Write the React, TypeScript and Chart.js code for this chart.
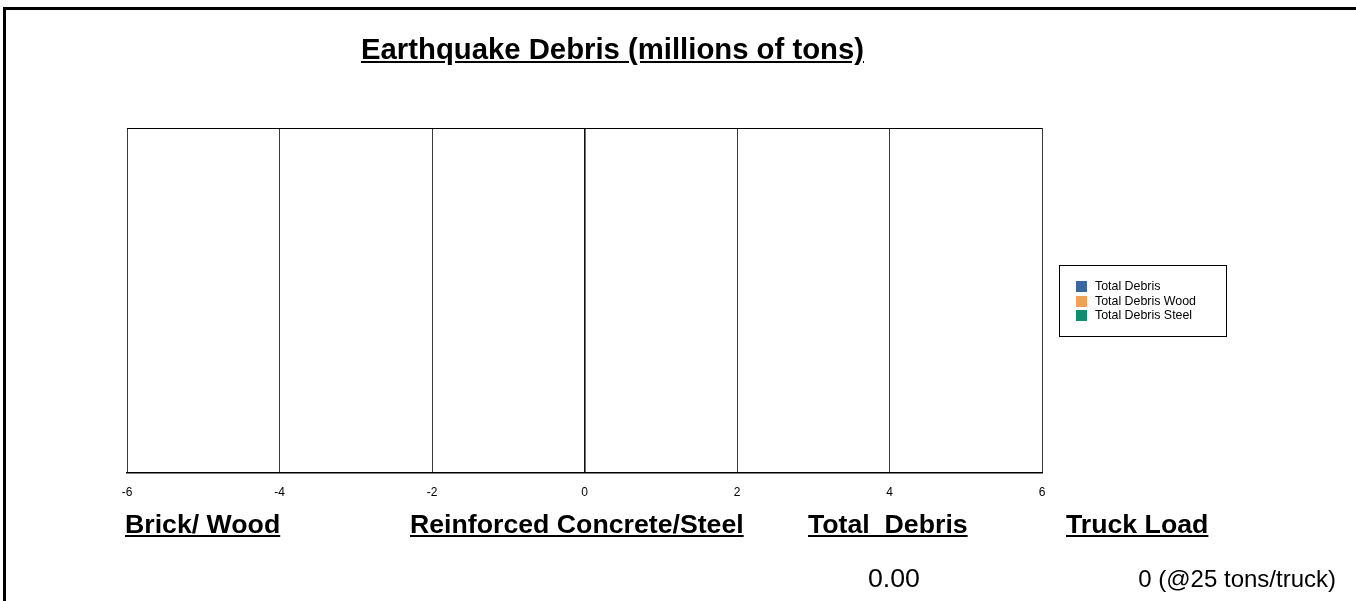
import React, { useEffect, useRef } from "react";
import { Chart, registerables } from "chart.js";

Chart.register(...registerables);

const categories: string[] = ["Debris"];
const seriesNames: string[] = ["Total Debris", "Total Debris Wood", "Total Debris Steel"];
const totalDebris: number[] = [0];
const totalDebrisWood: number[] = [0];
const totalDebrisSteel: number[] = [0];
const seriesColors: string[] = ["#3b67a0", "#f2a257", "#0f8f70"];
const xMin = -6;
const xMax = 6;
const xStep = 2;

const FONT = "'Liberation Sans', Arial, sans-serif";

const chartBorderPlugin = {
  id: "areaBorder",
  afterDraw(chart: any) {
    const { ctx, chartArea } = chart;
    ctx.save();
    ctx.strokeStyle = "#000";
    ctx.lineWidth = 1;
    ctx.beginPath();
    ctx.moveTo(chartArea.left, Math.round(chartArea.top) + 0.5);
    ctx.lineTo(chartArea.right, Math.round(chartArea.top) + 0.5);
    ctx.stroke();
    ctx.restore();
  },
};

const boxedLegendPlugin = {
  id: "boxedLegend",
  afterDraw(chart: any) {
    const { ctx, chartArea } = chart;
    const ds = chart.data.datasets;
    const boxLeft = Math.round(chartArea.right) + 17;
    const boxW = 167;
    const boxH = 71;
    const boxTop = Math.round((chartArea.top + chartArea.bottom) / 2 - boxH / 2);
    ctx.save();
    ctx.fillStyle = "#fff";
    ctx.fillRect(boxLeft, boxTop, boxW, boxH);
    ctx.strokeStyle = "#000";
    ctx.lineWidth = 1;
    ctx.strokeRect(boxLeft + 0.5, boxTop + 0.5, boxW, boxH);
    ctx.font = `12.4px ${FONT}`;
    ctx.textBaseline = "middle";
    ds.forEach((d: any, i: number) => {
      const cy = boxTop + 21 + i * 14.7;
      ctx.fillStyle = d.backgroundColor;
      ctx.fillRect(boxLeft + 17, Math.round(cy - 5), 11, 11);
      ctx.fillStyle = "#000";
      ctx.fillText(d.label, boxLeft + 36, cy + 0.5);
    });
    ctx.restore();
  },
};

function ChartCanvas() {
  const ref = useRef<HTMLCanvasElement | null>(null);
  useEffect(() => {
    if (!ref.current) return;
    const chart = new Chart(ref.current, {
      type: "bar",
      data: {
        labels: categories,
        datasets: [
          { label: seriesNames[0], data: totalDebris, backgroundColor: seriesColors[0], borderWidth: 0 },
          { label: seriesNames[1], data: totalDebrisWood, backgroundColor: seriesColors[1], borderWidth: 0 },
          { label: seriesNames[2], data: totalDebrisSteel, backgroundColor: seriesColors[2], borderWidth: 0 },
        ],
      },
      options: {
        indexAxis: "y",
        responsive: false,
        animation: false,
        devicePixelRatio: 1,
        layout: { padding: { left: 127, right: 314, top: 128, bottom: 102 } },
        plugins: {
          legend: { display: false },
          title: { display: false },
          tooltip: { enabled: false },
        },
        scales: {
          x: {
            type: "linear",
            min: xMin,
            max: xMax,
            ticks: {
              stepSize: xStep,
              padding: 12,
              color: "#000",
              font: { family: FONT, size: 12 },
            },
            grid: {
              drawTicks: false,
              color: (c: any) => (c.tick && c.tick.value === 0 ? "#111" : "#3a3a3a"),
              lineWidth: (c: any) => (c.tick && c.tick.value === 0 ? 1.6 : 1),
            },
            border: { display: true, color: "#000", width: 1.5 },
            afterFit: (s: any) => {
              s.height = 26;
            },
          },
          y: { display: false },
        },
      },
      plugins: [chartBorderPlugin, boxedLegendPlugin],
    } as any);
    return () => chart.destroy();
  }, []);
  return (
    <canvas
      ref={ref}
      width={1356}
      height={601}
      style={{ position: "absolute", left: 0, top: 0, width: 1356, height: 601 }}
    />
  );
}

const txt = (extra: React.CSSProperties): React.CSSProperties => ({
  position: "absolute",
  fontFamily: FONT,
  color: "#000",
  lineHeight: 1,
  whiteSpace: "pre",
  ...extra,
});

export default function App() {
  return (
    <div
      style={{
        position: "fixed",
        left: 0,
        top: 0,
        width: 1356,
        height: 601,
        overflow: "hidden",
        background: "#fff",
      }}
    >
      <div
        style={{
          position: "absolute",
          left: 3,
          top: 7,
          width: 1400,
          height: 700,
          borderTop: "3px solid #000",
          borderLeft: "3px solid #000",
        }}
      />
      <ChartCanvas />
      <div style={txt({ left: 361, top: 34, fontSize: 29.3, fontWeight: "bold", textDecoration: "underline" })}>
        Earthquake Debris (millions of tons)
      </div>
      <div style={txt({ left: 125, top: 511, fontSize: 26.7, fontWeight: "bold", textDecoration: "underline" })}>
        Brick/ Wood
      </div>
      <div style={txt({ left: 410, top: 511, fontSize: 26.7, fontWeight: "bold", textDecoration: "underline" })}>
        Reinforced Concrete/Steel
      </div>
      <div style={txt({ left: 808, top: 511, fontSize: 26.7, fontWeight: "bold", textDecoration: "underline" })}>
        {"Total  Debris"}
      </div>
      <div style={txt({ left: 1066, top: 511, fontSize: 26.7, fontWeight: "bold", textDecoration: "underline" })}>
        Truck Load
      </div>
      <div style={txt({ left: 868, top: 565, fontSize: 26.7 })}>0.00</div>
      <div style={txt({ right: 1356 - 1336, top: 567, fontSize: 24 })}>0 (@25 tons/truck)</div>
    </div>
  );
}
